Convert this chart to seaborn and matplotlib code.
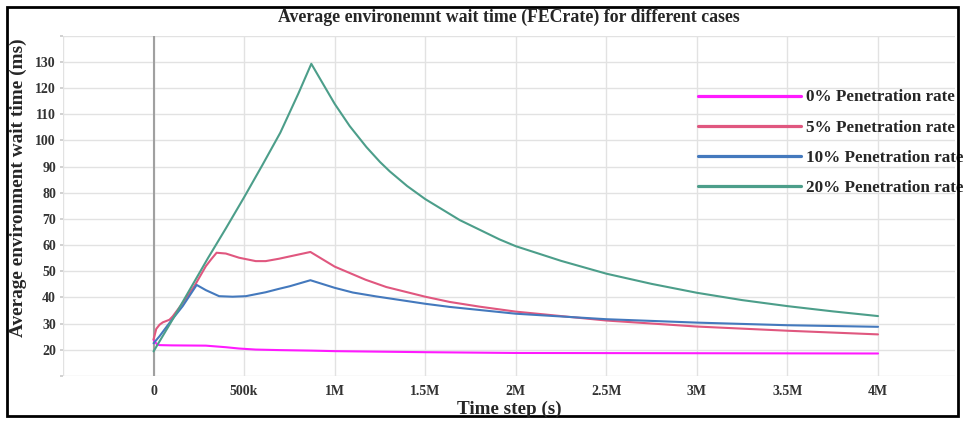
import numpy as np
import pandas as pd
import seaborn as sns
import matplotlib.pyplot as plt
from matplotlib.patches import Rectangle

# values (x in thousands of time steps, y in ms)
x_0pct = [0, 20, 33, 100, 289, 399, 472, 564, 692, 870, 1000, 1500, 2000, 3000, 4000]
y_0pct = [23.8, 22.0, 21.8, 21.7, 21.6, 21.0, 20.5, 20.1, 19.9, 19.7, 19.5, 19.1, 18.8, 18.7, 18.6]

x_5pct = [0, 15, 33, 51, 88, 106, 161, 225, 289, 317, 348, 399, 472, 564, 619, 692, 752, 866,
          1000, 1170, 1285, 1500, 1635, 1800, 2000, 2500, 3000, 3500, 4000]
y_5pct = [24.0, 28.0, 29.6, 30.5, 31.5, 32.8, 37.9, 44.3, 52.0, 54.5, 57.1, 56.8, 55.2, 53.9, 53.9, 54.8, 55.7, 57.4,
          51.8, 46.8, 44.0, 40.3, 38.3, 36.5, 34.6, 31.2, 28.9, 27.3, 25.9]

x_10pct = [0, 33, 88, 161, 238, 289, 362, 436, 509, 619, 692, 752, 866,
           1000, 1100, 1230, 1500, 1635, 2000, 2500, 3000, 3500, 4000]
y_10pct = [22.5, 25.2, 30.3, 36.7, 44.8, 42.8, 40.5, 40.3, 40.5, 42.0, 43.3, 44.3, 46.6,
           43.7, 41.9, 40.4, 37.6, 36.4, 33.8, 31.7, 30.4, 29.4, 28.8]

x_20pct = [0, 100, 200, 300, 400, 500, 600, 700, 800, 871,
           1000, 1083, 1175, 1250, 1304, 1400, 1500, 1690, 1910, 2000, 2250, 2500, 2750, 3000, 3250, 3500, 3750, 4000]
y_20pct = [19.4, 31.0, 43.0, 55.0, 66.5, 78.3, 90.5, 103.0, 118.0, 129.3,
           114.0, 105.5, 97.5, 91.8, 88.2, 82.6, 77.6, 69.6, 62.2, 59.6, 54.0, 49.1, 45.2, 41.8, 39.0, 36.7, 34.7, 32.9]

cases = ['0% Penetration rate', '5% Penetration rate', '10% Penetration rate', '20% Penetration rate']
colors = ['#ff1aff', '#e0577f', '#4479bd', '#4c9e8a']

x_ticks = [-500, 0, 500, 1000, 1500, 2000, 2500, 3000, 3500, 4000]
x_tick_labels = ['', '0', '500k', '1M', '1.5M', '2M', '2.5M', '3M', '3.5M', '4M']
y_ticks = [10, 20, 30, 40, 50, 60, 70, 80, 90, 100, 110, 120, 130, 140]
y_tick_labels = ['', '20', '30', '40', '50', '60', '70', '80', '90', '100', '110', '120', '130', '']

# long form table for seaborn
frames = []
for name, xs, ys in zip(cases, [x_0pct, x_5pct, x_10pct, x_20pct], [y_0pct, y_5pct, y_10pct, y_20pct]):
    frames.append(pd.DataFrame({'step': np.array(xs) * 1000, 'wait': ys, 'case': name}))
df = pd.concat(frames, ignore_index=True)

sns.set_theme(style='whitegrid')
plt.rcParams['font.family'] = ['Liberation Serif', 'DejaVu Serif']
plt.rcParams['font.weight'] = 'bold'

fig = plt.figure(figsize=(9.65, 4.21), dpi=100)
ax = fig.add_axes([63 / 965, 1 - 376 / 421, (955 - 63) / 965, (376 - 35.8) / 421])

sns.lineplot(data=df, x='step', y='wait', hue='case', hue_order=cases,
             palette=dict(zip(cases, colors)), estimator=None, sort=False,
             linewidth=1.5, ax=ax)

ax.set_xlim(-500000, 4425000)
ax.set_ylim(10, 140)
ax.set_xticks([v * 1000 for v in x_ticks])
ax.set_xticklabels(x_tick_labels)
ax.set_yticks(y_ticks)
ax.set_yticklabels(y_tick_labels)
ax.set_xlabel('')
ax.set_ylabel('')
ax.grid(True, color='#e2e2e2', linewidth=1)
ax.axvline(0, color='#a0a0a0', linewidth=1.5, zorder=1)
for s in ax.spines.values():
    s.set_visible(False)
ax.tick_params(axis='y', left=True, length=2, color='#cccccc', pad=3, labelsize=10, labelcolor='#333333')
ax.tick_params(axis='x', bottom=False, length=0, pad=6.5, labelsize=10, labelcolor='#333333')
for lab in ax.get_xticklabels() + ax.get_yticklabels():
    lab.set_fontweight('bold')

leg = ax.legend(loc='upper left', bbox_to_anchor=(698 / 965, 1 - 89.5 / 421), bbox_transform=fig.transFigure,
                frameon=False, borderaxespad=0, borderpad=0, handlelength=6.0, handletextpad=0.3,
                labelspacing=0.83, prop={'family': 'Liberation Serif', 'weight': 'bold', 'size': 12.3})
for h in leg.get_lines():
    h.set_linewidth(2.3)

fig.text(509 / 965, 1 - 17.5 / 421, 'Average environemnt wait time (FECrate) for different cases',
         ha='center', va='center', fontsize=12.8, fontweight='bold')
fig.text(18 / 965, 1 - 188 / 421, 'Average environment wait time (ms)', rotation=90,
         ha='center', va='center', fontsize=13.9, fontweight='bold')
fig.text(509 / 965, 1 - 409.5 / 421, 'Time step (s)', ha='center', va='center', fontsize=13.8, fontweight='bold')

# black frame round the whole picture
fig.patches.append(Rectangle((7 / 965, 1 - 416 / 421), 951 / 965, 409 / 421, transform=fig.transFigure,
                             fill=False, edgecolor='black', linewidth=2))

fig.savefig('out.png', dpi=100)
